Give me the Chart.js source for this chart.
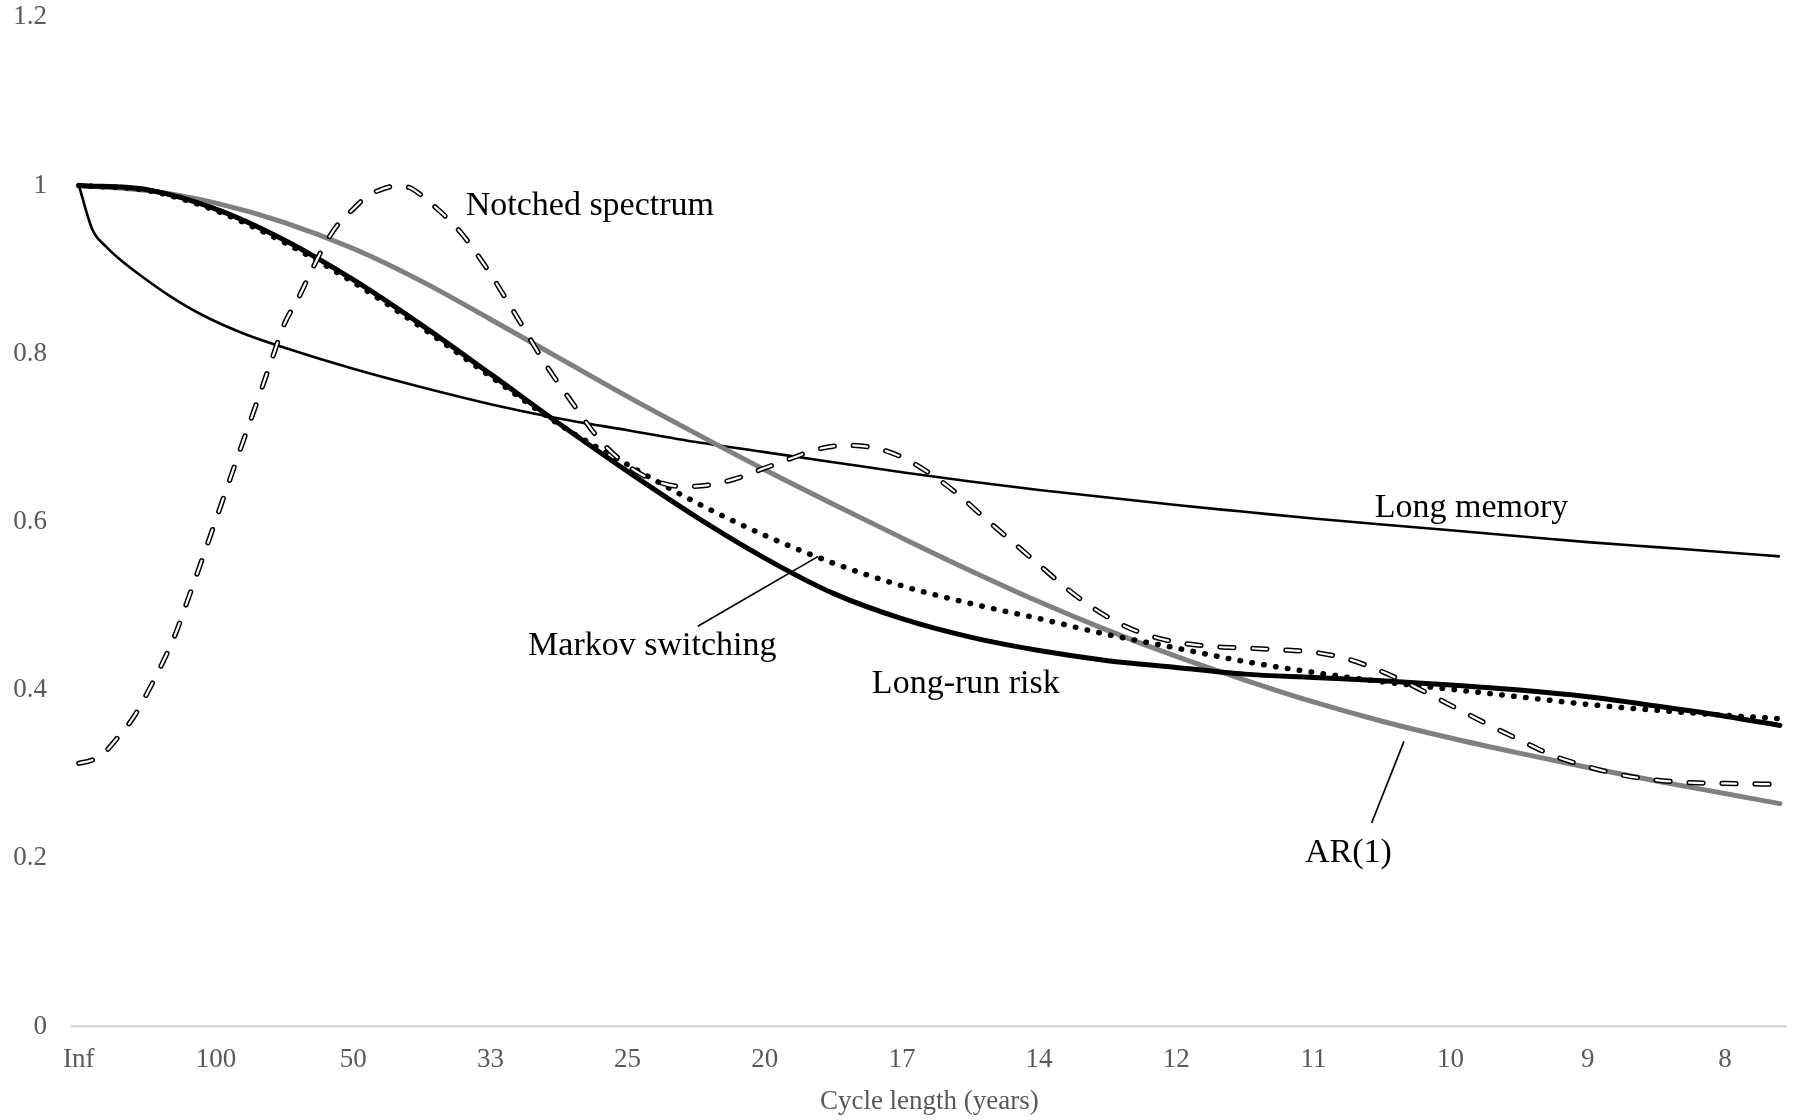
<!DOCTYPE html>
<html>
<head>
<meta charset="utf-8">
<script src="https://cdn.jsdelivr.net/npm/chart.js@4.4.1/dist/chart.umd.min.js"></script>
<style>
  html, body { margin: 0; padding: 0; background: #fff; }
  #wrap { width: 1795px; height: 1120px; }
</style>
</head>
<body>
<div id="wrap"><canvas id="chartSpectra" width="1795" height="1120"></canvas></div>
<script>
/* ─── Ejes ─────────────────────────────────────────── */
// k = ciclos por siglo; la etiqueta es la longitud del ciclo (100/k)
const tickLabels = ['Inf', '100', '50', '33', '25', '20', '17', '14', '12', '11', '10', '9', '8'];

/* ─── Series (espectro normalizado) ───────────────── */
const kSmooth = [0, 0.5, 1, 1.5, 2, 2.5, 3, 3.5, 4, 4.5, 5, 5.5, 6, 6.5, 7, 7.5, 8, 8.5, 9, 9.5, 10, 10.5, 11, 11.5, 12, 12.4];

const ar1 = [1.000, 0.994, 0.979, 0.956, 0.925, 0.886, 0.841, 0.795, 0.749, 0.705, 0.662, 0.621, 0.581,
             0.542, 0.505, 0.471, 0.440, 0.412, 0.386, 0.363, 0.343, 0.325, 0.308, 0.292, 0.277, 0.265];

const longRunRisk = [1.000, 0.995, 0.972, 0.935, 0.888, 0.834, 0.776, 0.717, 0.660, 0.606, 0.557, 0.515, 0.485,
                     0.463, 0.447, 0.435, 0.427, 0.419, 0.415, 0.411, 0.406, 0.400, 0.392, 0.381, 0.369, 0.358];

const markov = [1.000, 0.994, 0.970, 0.932, 0.885, 0.831, 0.773, 0.716, 0.668, 0.623, 0.584, 0.551, 0.524,
                0.503, 0.485, 0.466, 0.450, 0.434, 0.421, 0.410, 0.401, 0.392, 0.383, 0.376, 0.370, 0.366];

const kLongMemory = [0, 0.1, 0.2, 0.3, 0.45, 0.65, 0.9, 1.2, 1.5, 2, 2.5, 3, 3.5, 4, 4.5, 5, 5.5, 6, 6.5, 7,
                     7.5, 8, 8.5, 9, 9.5, 10, 10.5, 11, 11.5, 12, 12.4];
const longMemory = [1.000, 0.947, 0.927, 0.912, 0.893, 0.870, 0.846, 0.824, 0.807, 0.782, 0.760, 0.740, 0.723,
                    0.709, 0.695, 0.683, 0.671, 0.659, 0.648, 0.638, 0.629, 0.620, 0.612, 0.604, 0.597, 0.590,
                    0.583, 0.576, 0.570, 0.564, 0.559];

const kNotched = [0, 0.1, 0.2, 0.3, 0.4, 0.5, 0.6, 0.7, 0.8, 0.9, 1.0, 1.1, 1.2, 1.3, 1.4, 1.5, 1.6, 1.7, 1.8, 1.9,
                  2.0, 2.1, 2.2, 2.3, 2.4, 2.5, 2.6, 2.7, 2.8, 2.9, 3.0, 3.2, 3.4, 3.6, 3.8, 4.0, 4.2, 4.4, 4.6,
                  4.8, 5.0, 5.2, 5.4, 5.6, 5.8, 6.0, 6.2, 6.4, 6.6, 6.8, 7.0, 7.2, 7.4, 7.6, 7.8, 8.0, 8.25, 8.5,
                  8.75, 9.0, 9.25, 9.5, 9.75, 10.0, 10.25, 10.5, 10.75, 11.0, 11.25, 11.5, 11.75, 12.0, 12.4];
const notched = [0.313, 0.317, 0.328, 0.347, 0.368, 0.397, 0.429, 0.465, 0.510, 0.556, 0.603, 0.650, 0.697,
                 0.743, 0.790, 0.836, 0.866, 0.900, 0.932, 0.956, 0.972, 0.987, 0.995, 0.999, 0.998, 0.988,
                 0.974, 0.959, 0.941, 0.919, 0.895, 0.842, 0.788, 0.741, 0.697, 0.667, 0.649, 0.642, 0.644,
                 0.652, 0.664, 0.676, 0.687, 0.691, 0.688, 0.677, 0.658, 0.634, 0.605, 0.577, 0.549, 0.521,
                 0.497, 0.478, 0.465, 0.457, 0.452, 0.450, 0.448, 0.445, 0.437, 0.422, 0.403, 0.382, 0.361,
                 0.341, 0.322, 0.309, 0.299, 0.293, 0.290, 0.289, 0.288];

/* ─── Rótulos de cada serie (en unidades de los ejes) ── */
const seriesLabels = [
  { text: 'Notched spectrum', k: 2.82,  v: 0.965 },
  { text: 'Long memory',      k: 9.447, v: 0.606 },
  { text: 'Markov switching', k: 3.275, v: 0.442 },
  { text: 'Long-run risk',    k: 5.781, v: 0.397 },
  { text: 'AR(1)',            k: 8.938, v: 0.196 },
];
// líneas guía [k0, v0, k1, v1]
const leaderLines = [
  [4.512, 0.476, 5.39, 0.559],
  [9.424, 0.242, 9.66, 0.339],
];

const FONT = "'Liberation Serif', 'Times New Roman', serif";
const AXIS_GREY = '#595959';

const toPoints = (ks, vs) => ks.map((k, i) => ({ x: k, y: vs[i] }));

const lineBase = {
  pointRadius: 0,
  fill: false,
  cubicInterpolationMode: 'monotone',
};

/* ─── Rótulos y guías dibujados sobre las series ───── */
const labelPlugin = {
  id: 'seriesLabels',
  afterDatasetsDraw(chart) {
    const { ctx, scales: { x, y } } = chart;
    ctx.save();
    ctx.strokeStyle = '#000';
    ctx.lineWidth = 1.7;
    leaderLines.forEach(([k0, v0, k1, v1]) => {
      ctx.beginPath();
      ctx.moveTo(x.getPixelForValue(k0), y.getPixelForValue(v0));
      ctx.lineTo(x.getPixelForValue(k1), y.getPixelForValue(v1));
      ctx.stroke();
    });
    ctx.font = '34px ' + FONT;
    ctx.fillStyle = '#000';
    ctx.textAlign = 'left';
    ctx.textBaseline = 'alphabetic';
    seriesLabels.forEach(l => ctx.fillText(l.text, x.getPixelForValue(l.k), y.getPixelForValue(l.v)));
    ctx.restore();
  },
};

new Chart(document.getElementById('chartSpectra'), {
  type: 'line',
  data: {
    datasets: [
      // trazo discontinuo hueco: relleno blanco sobre contorno negro
      {
        ...lineBase,
        label: 'Notched spectrum (fill)',
        data: toPoints(kNotched, notched),
        borderColor: '#ffffff',
        borderWidth: 2.2,
        borderDash: [14, 19],
        borderCapStyle: 'round',
        order: 0,
      },
      {
        ...lineBase,
        label: 'Notched spectrum',
        data: toPoints(kNotched, notched),
        borderColor: '#000000',
        borderWidth: 5.2,
        borderDash: [14, 19],
        borderCapStyle: 'round',
        order: 1,
      },
      {
        ...lineBase,
        label: 'Markov switching',
        data: toPoints(kSmooth, markov),
        borderColor: '#000000',
        borderWidth: 5.5,
        borderDash: [0.5, 11.5],
        borderCapStyle: 'round',
        order: 2,
      },
      {
        ...lineBase,
        label: 'Long-run risk',
        data: toPoints(kSmooth, longRunRisk),
        borderColor: '#000000',
        borderWidth: 5,
        borderCapStyle: 'round',
        order: 3,
      },
      {
        ...lineBase,
        label: 'AR(1)',
        data: toPoints(kSmooth, ar1),
        borderColor: '#808080',
        borderWidth: 5,
        borderCapStyle: 'round',
        order: 4,
      },
      {
        ...lineBase,
        label: 'Long memory',
        data: toPoints(kLongMemory, longMemory),
        borderColor: '#000000',
        borderWidth: 2.6,
        order: 5,
      },
    ],
  },
  options: {
    responsive: false,
    animation: false,
    layout: { padding: { top: 17.3, right: 8.3, bottom: 0, left: 0 } },
    plugins: {
      legend: { display: false },
      tooltip: { enabled: false },
    },
    scales: {
      x: {
        type: 'linear',
        min: -0.05,
        max: 12.45,
        afterFit: s => { s.height = 93.5; s.paddingLeft = 0; s.paddingRight = 0; },
        grid: { display: false, drawTicks: false },
        border: { display: true, color: '#d9d9d9', width: 2.5 },
        ticks: {
          stepSize: 1,
          includeBounds: false,
          autoSkip: false,
          maxRotation: 0,
          padding: 17,
          color: AXIS_GREY,
          font: { family: FONT, size: 27 },
          callback: v => tickLabels[Math.round(v)] ?? '',
        },
        title: {
          display: true,
          text: 'Cycle length (years)',
          color: AXIS_GREY,
          font: { family: FONT, size: 27 },
          padding: { top: 0, bottom: 1.5 },
        },
      },
      y: {
        min: 0,
        max: 1.2,
        afterFit: s => { s.width = 72; s.paddingTop = 0; s.paddingBottom = 0; },
        grid: { display: false, drawTicks: false },
        border: { display: false },
        ticks: {
          stepSize: 0.2,
          padding: 25,
          color: AXIS_GREY,
          font: { family: FONT, size: 27 },
          callback: v => String(+v.toFixed(1)),
        },
      },
    },
  },
  plugins: [labelPlugin],
});
</script>
</body>
</html>
